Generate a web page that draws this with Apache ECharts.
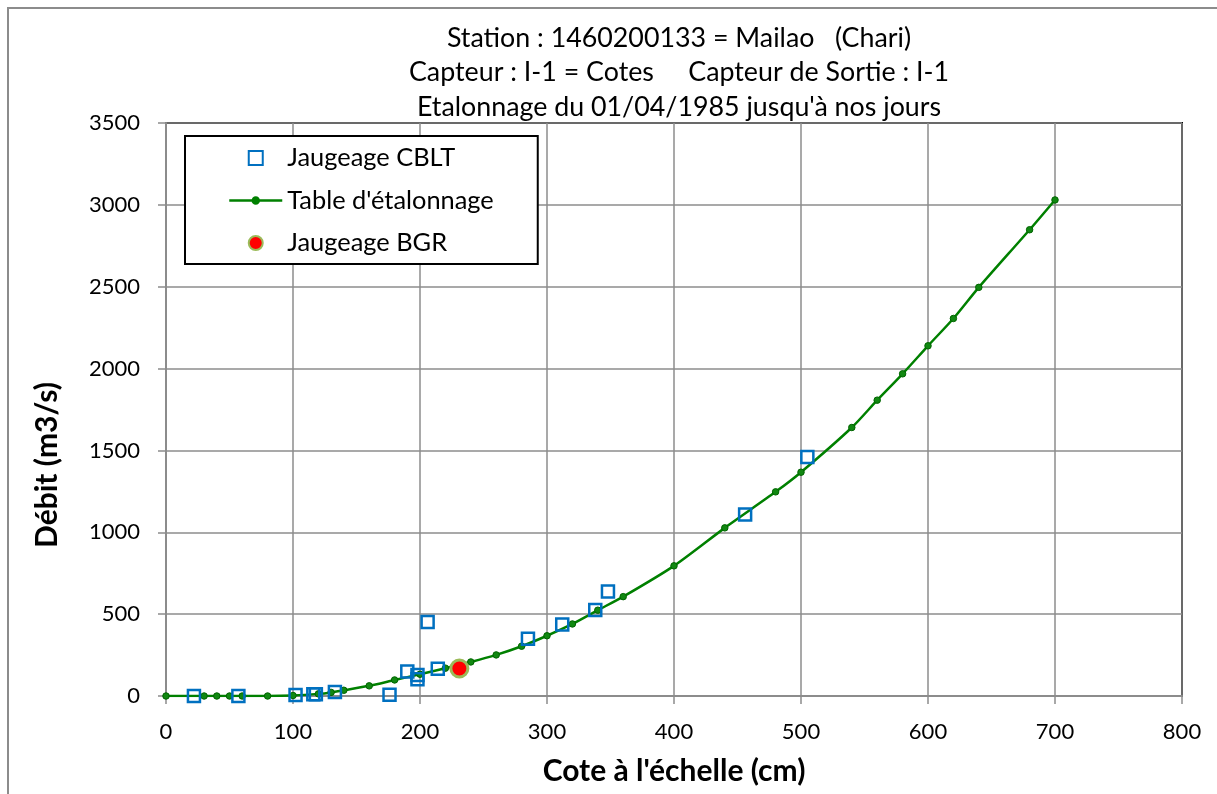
<!DOCTYPE html>
<html>
<head>
<meta charset="utf-8">
<script src="https://cdn.jsdelivr.net/npm/echarts@6/dist/echarts.min.js"></script>
<style>
html,body{margin:0;padding:0;background:#fff;}
#chart{width:1217px;height:794px;}
</style>
</head>
<body>
<div id="chart"></div>
<script>
// Rating table (Table d'étalonnage)
const tableCote = [0,30,40,50,60,80,100,120,130,140,160,180,200,220,240,260,280,300,320,340,360,400,440,480,500,540,560,580,600,620,640,680,700];
const tableDebit = [0,0,0,0,0,0,3,13,22,35,62,98,133,170,208,251,304,368,440,524,607,795,1027,1247,1367,1640,1807,1968,2139,2306,2496,2848,3030];
// CBLT gaugings
const cbltCote = [22,57,102,116,118,133,176,190,198,198,206,214,285,312,338,348,456,505];
const cbltDebit = [0,0,6,10,10,24,8,150,128,102,452,166,350,436,526,638,1108,1460];
// BGR gauging
const bgrCote = [231];
const bgrDebit = [168];

const titleLines = [
  'Station : 1460200133 = Mailao   (Chari)',
  'Capteur : I-1 = Cotes     Capteur de Sortie : I-1',
  "Etalonnage du 01/04/1985 jusqu'à nos jours"
];
const xTitle = "Cote à l'échelle (cm)";
const yTitle = 'Débit (m3/s)';
const names = ['Jaugeage CBLT', "Table d'étalonnage", 'Jaugeage BGR'];

const zip = (a, b) => a.map((v, i) => [v, b[i]]);
const FONT = 'Lato';

const chart = echarts.init(document.getElementById('chart'), null, {renderer: 'canvas'});
chart.setOption({
  animation: false,
  backgroundColor: '#fff',
  textStyle: {fontFamily: FONT, color: '#000'},
  title: {
    text: titleLines.join('\n'),
    left: 674,
    textAlign: 'center',
    top: 16,
    textStyle: {fontFamily: FONT, fontSize: 26.8, fontWeight: 'normal', color: '#000', lineHeight: 34.5}
  },
  graphic: [{
    type: 'rect',
    x: 8, y: 8,
    shape: {x: 0, y: 0, width: 1400, height: 1000},
    style: {fill: 'none', stroke: '#8c8c8c', lineWidth: 2},
    silent: true, z: -10
  }, {
    type: 'text',
    x: 47, y: 465,
    rotation: Math.PI / 2,
    style: {text: yTitle, x: 0, y: 0, align: 'center', verticalAlign: 'middle',
            font: 'bold 30px Lato', fill: '#000'},
    silent: true
  }],
  grid: {
    left: 166, top: 123, right: 35, bottom: 98,
    show: true, borderColor: '#000', borderWidth: 2, backgroundColor: 'transparent'
  },
  legend: {
    orient: 'vertical',
    left: 185, top: 136,
    padding: [8, 44, 7, 43],
    backgroundColor: '#fff',
    borderColor: '#000', borderWidth: 2, borderRadius: 0,
    itemWidth: 53, itemHeight: 14, itemGap: 14.5,
    symbolKeepAspect: true,
    textStyle: {fontFamily: FONT, fontSize: 25.4, color: '#000', lineHeight: 28},
    data: [
      {name: names[0], icon: 'path://M0,0H10V10H0Z'},
      {name: names[1], icon: 'path://M0,3H53M23.5,3a3,3 0 1,0 6,0a3,3 0 1,0 -6,0',
       itemStyle: {color: '#008000', borderColor: '#008000', borderWidth: 2.5}},
      {name: names[2]}
    ]
  },
  xAxis: {
    type: 'value', min: 0, max: 800, interval: 100,
    name: xTitle, nameLocation: 'middle', nameGap: 60,
    nameTextStyle: {fontFamily: FONT, fontSize: 30, fontWeight: 'bold', color: '#000'},
    axisLine: {show: true, lineStyle: {color: '#8c8c8c', width: 2}},
    axisTick: {show: true, length: 8, lineStyle: {color: '#8c8c8c', width: 1.5}},
    axisLabel: {fontFamily: FONT, fontSize: 22, color: '#000', margin: 25},
    splitLine: {show: true, lineStyle: {color: '#8c8c8c', width: 1.5}}
  },
  yAxis: {
    type: 'value', min: 0, max: 3500, interval: 500,
    axisLine: {show: true, lineStyle: {color: '#8c8c8c', width: 2}},
    axisTick: {show: true, length: 8, lineStyle: {color: '#8c8c8c', width: 1.5}},
    axisLabel: {fontFamily: FONT, fontSize: 22, color: '#000', margin: 26,
                formatter: v => String(v)},
    splitLine: {show: true, lineStyle: {color: '#8c8c8c', width: 1.5}}
  },
  series: [
    {
      name: names[1], type: 'line',
      data: zip(tableCote, tableDebit),
      smooth: 0.25,
      symbol: 'circle', symbolSize: 6.5,
      lineStyle: {color: '#008000', width: 2.5},
      itemStyle: {color: '#118811', borderColor: '#006400', borderWidth: 1},
      z: 2
    },
    {
      name: names[0], type: 'scatter',
      data: zip(cbltCote, cbltDebit),
      symbol: 'rect', symbolSize: 12,
      itemStyle: {color: 'rgba(255,255,255,0)', borderColor: '#0070C0', borderWidth: 2.5, opacity: 1},
      z: 3
    },
    {
      name: names[2], type: 'scatter',
      data: zip(bgrCote, bgrDebit),
      symbol: 'circle', symbolSize: 17,
      itemStyle: {color: '#ff0000', borderColor: '#9BBB59', borderWidth: 3, opacity: 1},
      z: 4
    }
  ]
});
</script>
</body>
</html>
